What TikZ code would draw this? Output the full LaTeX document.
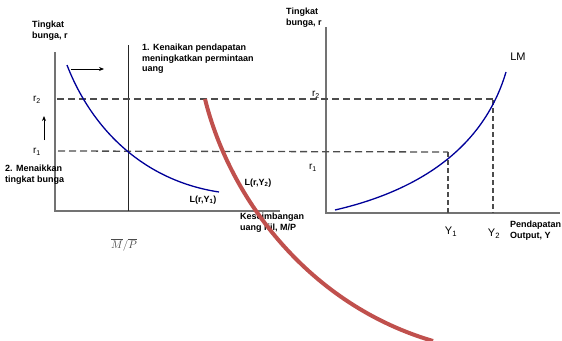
\documentclass[tikz,border=0pt]{standalone}
\usepackage{fontspec}
\setmainfont{Liberation Sans}
\usetikzlibrary{arrows.meta}
\begin{document}
\begin{tikzpicture}[x=1pt,y=-1pt,
  lbl/.style={font=\fontsize{9}{10.5}\selectfont\bfseries, align=left, inner sep=0pt},
  rlab/.style={font=\fontsize{10}{11}\selectfont, inner sep=0pt},
  axis/.style={draw=black!55, line width=1.2pt},
  dashln/.style={draw=black!70, line width=1.3pt, dash pattern=on 7pt off 4pt},
  curve/.style={draw=blue!60!black, line width=1.3pt},
  redc/.style={draw={rgb,255:red,192;green,80;blue,77}, line width=4pt},
  arr/.style={-{Stealth[length=5pt,width=4pt]}, line width=1pt, black}]
\useasboundingbox (0,0) rectangle (562,340);
% coordinates
\coordinate (LO) at (55,211);
\coordinate (LT) at (55,52);
\coordinate (LX) at (280,211);
\coordinate (MT) at (128,45);
\coordinate (MB) at (128,211);
\coordinate (RO) at (326,213);
\coordinate (RT) at (326,27);
\coordinate (RX) at (560,213);
% axes
\draw[axis] (LT) -- (LO) -- (LX);
\draw[axis] (RT) -- (RO) -- (RX);
\draw[black!85, line width=1pt] (MT) -- (MB);
% dashed
\coordinate (d2a) at (57,99);
\coordinate (d2b) at (493,99);
\coordinate (d1a) at (58,151);
\coordinate (d1b) at (448,152);
\draw[dashln] (d2a) -- (d2b);
\draw[dashln] (d1a) -- (d1b);
\coordinate (Y1t) at (448,152);
\coordinate (Y1b) at (448,213);
\coordinate (Y2t) at (493,100);
\coordinate (Y2b) at (493,213);
\draw[dashln, line width=1.5pt, dash pattern=on 5pt off 3pt] (Y1t) -- (Y1b);
\draw[dashln, line width=1.5pt, dash pattern=on 5pt off 3pt] (Y2t) -- (Y2b);
% money demand curve
\draw[curve] (67,65) .. controls (90,125) and (140,180) .. (219,192);
% LM curve
\draw[curve] (335,210) .. controls (400,195) and (480,160) .. (506,72);
% arrows
\coordinate (ha) at (71,69);
\coordinate (hb) at (104,69);
\draw[arr] (ha) -- (hb);
\coordinate (va) at (44,140);
\coordinate (vb) at (44,116);
\draw[arr] (va) -- (vb);
% labels
\node[lbl, anchor=north west, font=\fontsize{9}{11}\selectfont\bfseries] (tb1) at (32,21) {Tingkat\\bunga, r};
\node[lbl, anchor=north west, font=\fontsize{9}{11}\selectfont\bfseries] (tb2) at (286,8) {Tingkat\\bunga, r};
\node[lbl, anchor=north west] (t1) at (142,44) {1. Kenaikan pendapatan\\meningkatkan permintaan\\uang};
\node[lbl, anchor=north west] (t2) at (5,165) {2. Menaikkan\\tingkat bunga};
\node[rlab] (r2l) at (37,100) {r\textsubscript{2}};
\node[rlab] (r1l) at (37,152) {r\textsubscript{1}};
\node[rlab] (r2r) at (316,95) {r\textsubscript{2}};
\node[rlab] (r1r) at (313,168) {r\textsubscript{1}};
\node[lbl] (ly2) at (258,183) {L(r,Y\textsubscript{2})};
\node[lbl] (ly1) at (203,200) {L(r,Y\textsubscript{1})};
\node[lbl, anchor=north west] (kes) at (240,213) {Keseimbangan\\uang riil, M/P};
\node[inner sep=0pt, text=black!70, font=\fontsize{11}{12}\selectfont] (mp) at (124,245) {$\overline{M}/\overline{P}$};
\node[font=\fontsize{11}{12}\selectfont, inner sep=0pt] (lm) at (518,57) {LM};
\node[font=\fontsize{11}{12}\selectfont, inner sep=0pt] (y1) at (451,232) {Y\textsubscript{1}};
\node[font=\fontsize{11}{12}\selectfont, inner sep=0pt] (y2) at (494,234) {Y\textsubscript{2}};
\node[lbl, anchor=north west] (pend) at (510,221) {Pendapatan\\Output, Y};
% red curve on top
\draw[redc] (205,99) .. controls (230,200) and (310,305) .. (433,341);
\end{tikzpicture}
\end{document}
